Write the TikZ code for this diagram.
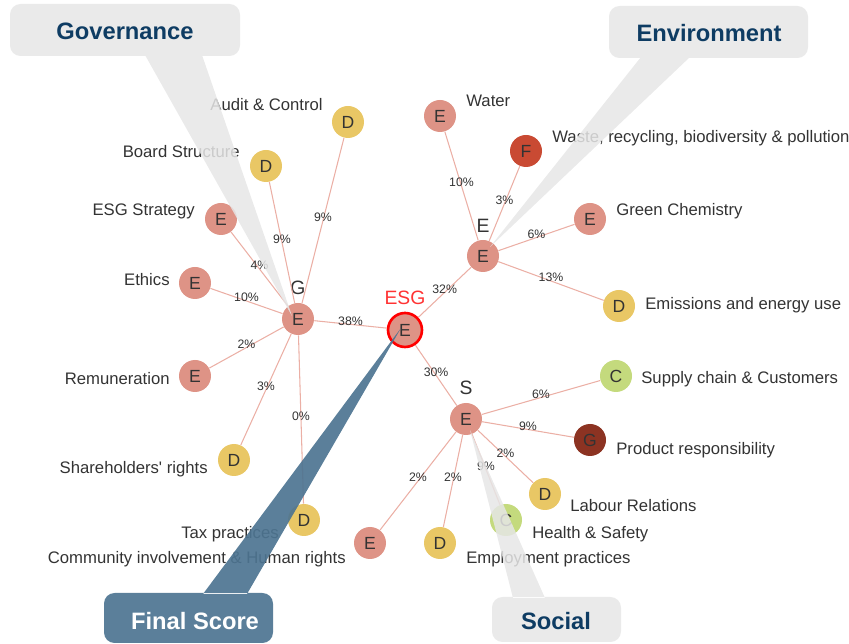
\documentclass[tikz,border=0pt]{standalone}
\usepackage{fontspec}
\setmainfont{Liberation Sans}
\usepackage{xcolor}
\usepackage{tikz}

\definecolor{gradeE}{HTML}{DE9386}
\definecolor{gradeD}{HTML}{E9C765}
\definecolor{gradeF}{HTML}{C94A33}
\definecolor{gradeG}{HTML}{8C3322}
\definecolor{gradeC}{HTML}{C4DA7D}
\definecolor{linkcol}{HTML}{EBAFA5}
\definecolor{navy}{HTML}{0E3C63}
\definecolor{steel}{HTML}{4D7491}
\definecolor{bubble}{HTML}{E6E6E6}
\definecolor{ink}{HTML}{333333}

\tikzset{
  grade/.style={circle, inner sep=0pt, minimum size=0.64cm, text=ink, font=\fontsize{10}{10}\selectfont},
  link/.style={draw=linkcol, line width=0.6pt},
  pct/.style={midway, yshift=2pt, inner sep=0pt, text=ink, font=\fontsize{7}{7}\selectfont},
  item/.style={inner sep=0pt, text=ink, font=\fontsize{9.5}{10}\selectfont},
  group/.style={inner sep=0pt, text=ink, font=\fontsize{11}{11}\selectfont},
  title/.style={inner sep=0pt, text=navy, font=\fontsize{13.5}{14}\selectfont\bfseries},
}

\begin{document}
\begin{tikzpicture}[x=0.02cm, y=-0.02cm]
  \useasboundingbox (0, 0) rectangle (849, 644);

  % centre and pillars
  \node[grade][fill=gradeE][draw=red, line width=1.5pt, minimum size=0.68cm] (ESG) at (405, 330) {E};
  \node[group][text=red!80] (ESGname) at (405, 298) {ESG};
  \node[grade][fill=gradeE] (G) at (298, 319) {E};
  \node[group] (Gname) at (298, 288) {G};
  \node[grade][fill=gradeE] (E) at (483, 256) {E};
  \node[group] (Ename) at (483, 226) {E};
  \node[grade][fill=gradeE] (S) at (466, 419) {E};
  \node[group] (Sname) at (466, 388) {S};

  % governance
  \node[grade][fill=gradeD] (Audit) at (348, 122) {D};
  \node[grade][fill=gradeD] (Board) at (266, 166) {D};
  \node[grade][fill=gradeE] (Strategy) at (221, 219) {E};
  \node[grade][fill=gradeE] (Ethics) at (195, 283) {E};
  \node[grade][fill=gradeE] (Remun) at (195, 376) {E};
  \node[grade][fill=gradeD] (Share) at (234, 460) {D};
  \node[grade][fill=gradeD] (Tax) at (304, 520) {D};

  % environment
  \node[grade][fill=gradeE] (Water) at (440, 116) {E};
  \node[grade][fill=gradeF] (Waste) at (526, 151) {F};
  \node[grade][fill=gradeE] (Green) at (590, 219) {E};
  \node[grade][fill=gradeD] (Emis) at (619, 306) {D};

  % social
  \node[grade][fill=gradeC] (Supply) at (616, 376) {C};
  \node[grade][fill=gradeG] (Product) at (590, 440) {G};
  \node[grade][fill=gradeD] (Labour) at (545, 494) {D};
  \node[grade][fill=gradeC] (Health) at (506, 520) {C};
  \node[grade][fill=gradeD] (Employ) at (440, 543) {D};
  \node[grade][fill=gradeE] (Commun) at (370, 543) {E};

  \draw[link] (G) -- (ESG) node[pct] {38\%};
  \draw[link] (ESG) -- (E) node[pct] {32\%};
  \draw[link] (ESG) -- (S) node[pct] {30\%};

  \draw[link] (G) -- (Audit) node[pct] {9\%};
  \draw[link] (G) -- (Board) node[pct] {9\%};
  \draw[link] (G) -- (Strategy) node[pct] {4\%};
  \draw[link] (G) -- (Ethics) node[pct] {10\%};
  \draw[link] (G) -- (Remun) node[pct] {2\%};
  \draw[link] (G) -- (Share) node[pct] {3\%};
  \draw[link] (G) -- (Tax) node[pct] {0\%};

  \draw[link] (E) -- (Water) node[pct] {10\%};
  \draw[link] (E) -- (Waste) node[pct] {3\%};
  \draw[link] (E) -- (Green) node[pct] {6\%};
  \draw[link] (E) -- (Emis) node[pct] {13\%};

  \draw[link] (S) -- (Supply) node[pct] {6\%};
  \draw[link] (S) -- (Product) node[pct] {9\%};
  \draw[link] (S) -- (Labour) node[pct] {2\%};
  \draw[link] (S) -- (Health) node[pct] {9\%};
  \draw[link] (S) -- (Employ) node[pct] {2\%};
  \draw[link] (S) -- (Commun) node[pct] {2\%};

  % item names
  \node[item][anchor=east] (AuditText) at (323, 105) {Audit \& Control};
  \node[item][anchor=east] (BoardText) at (240, 152) {Board Structure};
  \node[item][anchor=east] (StrategyText) at (195, 211) {ESG Strategy};
  \node[item][anchor=east] (EthicsText) at (170, 280) {Ethics};
  \node[item][anchor=east] (RemunText) at (170, 379) {Remuneration};
  \node[item][anchor=east] (ShareText) at (208, 469) {Shareholders\textquotesingle{} rights};
  \node[item][anchor=east] (TaxText) at (279, 534) {Tax practices};
  \node[item][anchor=east] (CommunText) at (346, 559) {Community involvement \& Human rights};
  \node[item][anchor=west] (WaterText) at (466, 101) {Water};
  \node[item][anchor=west] (WasteText) at (552, 138) {Waste, recycling, biodiversity \& pollution};
  \node[item][anchor=west] (GreenText) at (616, 211) {Green Chemistry};
  \node[item][anchor=west] (EmisText) at (645, 305) {Emissions and energy use};
  \node[item][anchor=west] (SupplyText) at (641, 379) {Supply chain \& Customers};
  \node[item][anchor=west] (ProductText) at (616, 450) {Product responsibility};
  \node[item][anchor=west] (LabourText) at (570, 506) {Labour Relations};
  \node[item][anchor=west] (HealthText) at (532, 534) {Health \& Safety};
  \node[item][anchor=west] (EmployText) at (466, 559) {Employment practices};

  % callouts
  \fill[bubble][fill opacity=0.85] (10, 4) [rounded corners=6pt] rectangle (240, 56)
       [sharp corners] (145, 55) -- (292, 316) -- (202, 55) -- cycle;
  \node[title] (Gov) at (125, 31) {Governance};
  \fill[bubble][fill opacity=0.85] (609, 6) [rounded corners=6pt] rectangle (808, 58)
       [sharp corners] (641, 57) -- (490, 247) -- (690, 57) -- cycle;
  \node[title] (Env) at (709, 33) {Environment};
  \fill[bubble][fill opacity=0.85] (492, 597) [rounded corners=6pt] rectangle (621, 642)
       [sharp corners] (513, 598) -- (470, 430) -- (545, 598) -- cycle;
  \node[title] (Soc) at (556, 621) {Social};
  \fill[steel][fill opacity=0.92] (104, 593) [rounded corners=6pt] rectangle (273, 643)
       [sharp corners] (203, 594) -- (401, 328) -- (247, 594) -- cycle;
  \node[title][text=white] (Final) at (195, 621) {Final Score};
\end{tikzpicture}
\end{document}
